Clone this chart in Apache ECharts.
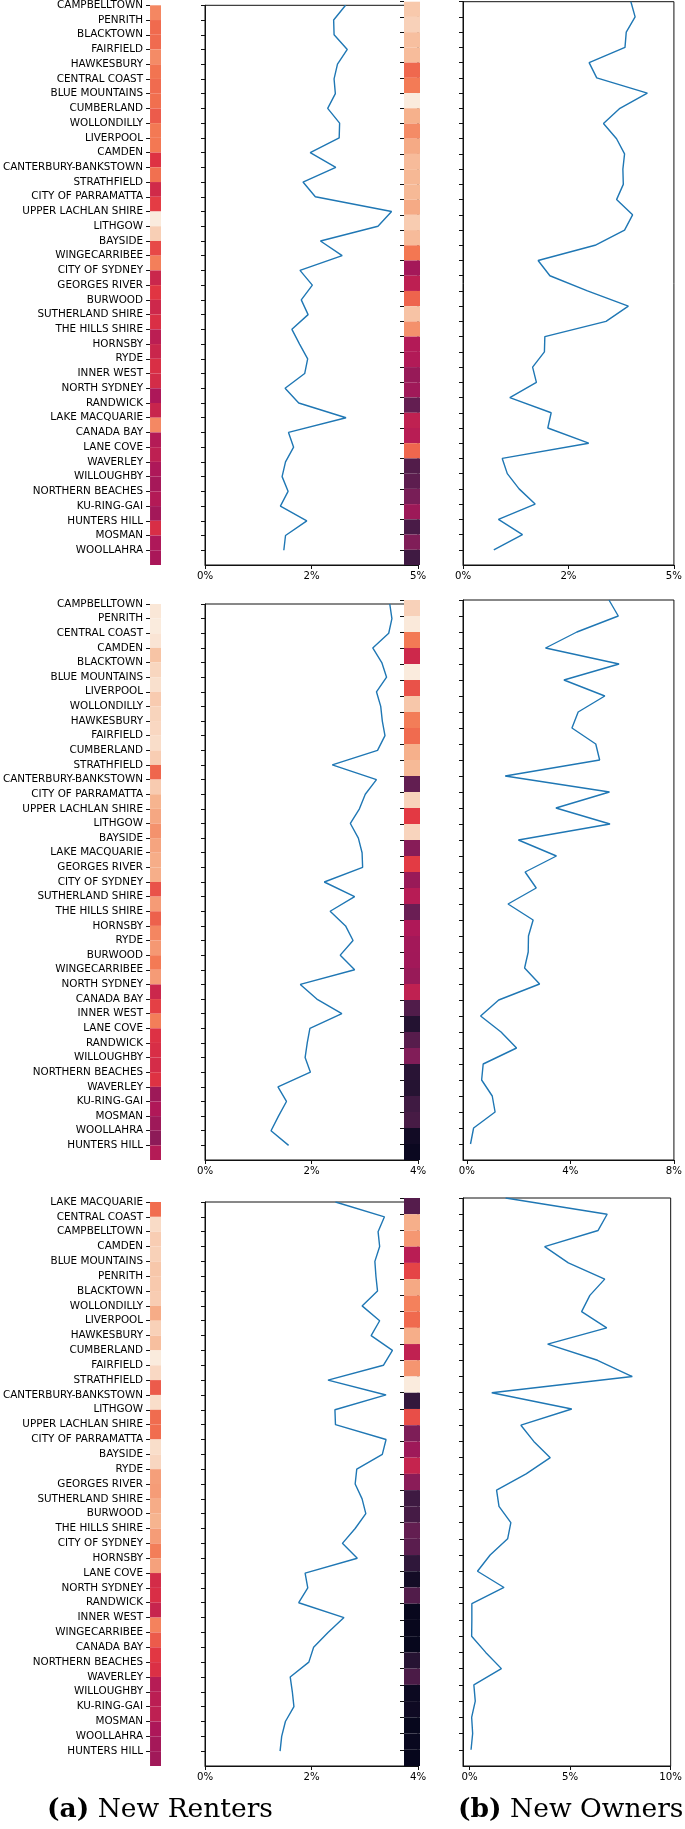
<!DOCTYPE html>
<html>
<head>
<meta charset="utf-8">
<script src="https://cdn.jsdelivr.net/npm/echarts@6/dist/echarts.min.js"></script>
<style>
  html, body { margin: 0; background: #fff; }
  #chart { width: 685px; height: 1829px; }
</style>
</head>
<body>
<div id="chart"></div>
<script>
// panel 1
const names1 = ["CAMPBELLTOWN", "PENRITH", "BLACKTOWN", "FAIRFIELD", "HAWKESBURY", "CENTRAL COAST",
  "BLUE MOUNTAINS", "CUMBERLAND", "WOLLONDILLY", "LIVERPOOL", "CAMDEN", "CANTERBURY-BANKSTOWN",
  "STRATHFIELD", "CITY OF PARRAMATTA", "UPPER LACHLAN SHIRE", "LITHGOW", "BAYSIDE", "WINGECARRIBEE",
  "CITY OF SYDNEY", "GEORGES RIVER", "BURWOOD", "SUTHERLAND SHIRE", "THE HILLS SHIRE", "HORNSBY",
  "RYDE", "INNER WEST", "NORTH SYDNEY", "RANDWICK", "LAKE MACQUARIE", "CANADA BAY", "LANE COVE",
  "WAVERLEY", "WILLOUGHBY", "NORTHERN BEACHES", "KU-RING-GAI", "HUNTERS HILL", "MOSMAN", "WOOLLAHRA"];
const rent1 = [3.30, 3.02, 3.03, 3.34, 3.11, 3.03, 3.06, 2.88, 3.16, 3.15, 2.47, 3.07, 2.30, 2.59,
  4.38, 4.06, 2.71, 3.22, 2.23, 2.52, 2.26, 2.42, 2.04, 2.22, 2.41, 2.34, 1.88, 2.20, 3.31, 1.96,
  2.08, 1.89, 1.81, 1.95, 1.77, 2.39, 1.89, 1.85];
const own1 = [3.98, 4.08, 3.87, 3.84, 2.99, 3.17, 4.37, 3.72, 3.33, 3.64, 3.83, 3.79, 3.80, 3.64,
  4.02, 3.83, 3.13, 1.78, 2.06, 2.95, 3.92, 3.39, 1.94, 1.93, 1.65, 1.74, 1.11, 2.09, 2.01, 2.98,
  0.93, 1.05, 1.33, 1.71, 0.84, 1.41, 0.73];

// panel 2
const names2 = ["CAMPBELLTOWN", "PENRITH", "CENTRAL COAST", "CAMDEN", "BLACKTOWN", "BLUE MOUNTAINS",
  "LIVERPOOL", "WOLLONDILLY", "HAWKESBURY", "FAIRFIELD", "CUMBERLAND", "STRATHFIELD",
  "CANTERBURY-BANKSTOWN", "CITY OF PARRAMATTA", "UPPER LACHLAN SHIRE", "LITHGOW", "BAYSIDE",
  "LAKE MACQUARIE", "GEORGES RIVER", "CITY OF SYDNEY", "SUTHERLAND SHIRE", "THE HILLS SHIRE",
  "HORNSBY", "RYDE", "BURWOOD", "WINGECARRIBEE", "NORTH SYDNEY", "CANADA BAY", "INNER WEST",
  "LANE COVE", "RANDWICK", "WILLOUGHBY", "NORTHERN BEACHES", "WAVERLEY", "KU-RING-GAI", "MOSMAN",
  "WOOLLAHRA", "HUNTERS HILL"];
const rent2 = [3.47, 3.51, 3.45, 3.15, 3.32, 3.41, 3.22, 3.30, 3.33, 3.38, 3.24, 2.39, 3.22, 3.01,
  2.90, 2.73, 2.88, 2.95, 2.96, 2.24, 2.81, 2.35, 2.64, 2.78, 2.54, 2.81, 1.79, 2.10, 2.57, 1.97,
  1.92, 1.88, 1.98, 1.37, 1.53, 1.38, 1.24, 1.57];
const own2 = [5.49, 5.85, 4.25, 3.04, 5.88, 3.75, 5.33, 4.30, 4.06, 4.98, 5.13, 1.48, 5.51, 3.44,
  5.53, 1.99, 3.46, 2.25, 2.68, 1.59, 2.56, 2.38, 2.37, 2.23, 2.81, 1.23, 0.53, 1.32, 1.92, 0.63,
  0.57, 0.98, 1.09, 0.26, 0.14];

// panel 3
const names3 = ["LAKE MACQUARIE", "CENTRAL COAST", "CAMPBELLTOWN", "CAMDEN", "BLUE MOUNTAINS",
  "PENRITH", "BLACKTOWN", "WOLLONDILLY", "LIVERPOOL", "HAWKESBURY", "CUMBERLAND", "FAIRFIELD",
  "STRATHFIELD", "CANTERBURY-BANKSTOWN", "LITHGOW", "UPPER LACHLAN SHIRE", "CITY OF PARRAMATTA",
  "BAYSIDE", "RYDE", "GEORGES RIVER", "SUTHERLAND SHIRE", "BURWOOD", "THE HILLS SHIRE",
  "CITY OF SYDNEY", "HORNSBY", "LANE COVE", "NORTH SYDNEY", "RANDWICK", "INNER WEST",
  "WINGECARRIBEE", "CANADA BAY", "NORTHERN BEACHES", "WAVERLEY", "WILLOUGHBY", "KU-RING-GAI",
  "MOSMAN", "WOOLLAHRA", "HUNTERS HILL"];
const rent3 = [2.45, 3.37, 3.25, 3.28, 3.19, 3.21, 3.24, 2.95, 3.28, 3.12, 3.52, 3.35, 2.31, 3.40,
  2.44, 2.45, 3.40, 3.33, 2.85, 2.82, 2.95, 3.02, 2.82, 2.58, 2.86, 1.88, 1.93, 1.76, 2.61, 2.31,
  2.04, 1.95, 1.60, 1.64, 1.67, 1.51, 1.44, 1.41];
const own3 = [1.79, 6.84, 6.39, 3.73, 4.91, 6.72, 5.98, 5.57, 6.82, 3.88, 6.36, 8.09, 1.10, 5.08,
  2.55, 3.19, 4.01, 2.81, 1.34, 1.46, 2.05, 1.89, 1.02, 0.39, 1.71, 0.11, 0.11, 0.10, 0.80, 1.58,
  0.21, 0.28, 0.10, 0.15, 0.07];

// x tick values per panel
const rentTicks1 = [0, 2.5, 5];
const ownTicks1 = [0, 2.5, 5];
const rentTicks2 = [0, 2, 4];
const ownTicks2 = [0, 4, 8];
const rentTicks3 = [0, 2, 4];
const ownTicks3 = [0, 5, 10];

// seaborn "rocket"
const rocket = ["#03051a", "#35193e", "#701f57", "#ad1759", "#e13342", "#f37651", "#f6b48f", "#faebdd"];

const panels = [
  { names: names1, rent: rent1, own: own1, rentTicks: rentTicks1, ownTicks: ownTicks1,
    rentMax: 5, ownMin: 0, ownMax: 5, rentTop: 5.3, ownTop: 1.7, bottom: 565 },
  { names: names2, rent: rent2, own: own2, rentTicks: rentTicks2, ownTicks: ownTicks2,
    rentMax: 4, ownMin: -0.15, ownMax: 8, rentTop: 604, ownTop: 600, bottom: 1160 },
  { names: names3, rent: rent3, own: own3, rentTicks: rentTicks3, ownTicks: ownTicks3,
    rentMax: 4, ownMin: -0.33, ownMax: 10, rentTop: 1202, ownTop: 1198, bottom: 1766 },
];

// matplotlib formats 2.5 as "2" (round half to even)
function pct(v) {
  const f = Math.floor(v);
  const r = v - f === 0.5 ? (f % 2 === 0 ? f : f + 1) : Math.round(v);
  return r + "%";
}

const range = (n) => Array.from({ length: n }, (_, i) => i);
const INK = "#111";
const FONT = "DejaVu Sans";

const grid = [], xAxis = [], yAxis = [], series = [], visualMap = [];

function stripSeries(gi, vals) {
  visualMap.push({
    type: "continuous", show: false, seriesIndex: series.length, dimension: 2,
    min: 0, max: Math.max(...vals), inRange: { color: rocket },
  });
  series.push({
    type: "custom", xAxisIndex: gi, yAxisIndex: gi,
    data: vals.map((v, i) => [0, i, v]),
    encode: { x: 0, y: 1 },
    renderItem: (params, api) => {
      const i = api.value(1);
      const a = api.coord([0, i]);
      const b = api.coord([1, i + 1]);
      return {
        type: "rect",
        shape: { x: a[0], y: a[1], width: b[0] - a[0], height: b[1] - a[1] },
        style: { fill: api.visual("color") },
      };
    },
  });
}

function lineSeries(gi, vals) {
  series.push({
    type: "line", xAxisIndex: gi, yAxisIndex: gi, symbol: "none",
    data: vals.map((v, i) => [v, i]),
    lineStyle: { color: "#1f77b4", width: 1.4 },
  });
}

function catAxis(gi, n, labels) {
  return {
    gridIndex: gi, type: "value", inverse: true, min: 0, max: n,
    axisLine: { show: !!labels.line, onZero: false, lineStyle: { color: INK, width: 1 } },
    splitLine: { show: false },
    axisTick: { show: true, length: 4, customValues: range(n), lineStyle: { color: INK, width: 1 } },
    axisLabel: labels.names
      ? { show: true, customValues: range(n), formatter: (v) => labels.names[v] || "",
          fontFamily: FONT, fontSize: 10.4, color: "#000", margin: 7 }
      : { show: false },
  };
}

function pctAxis(gi, min, max, ticks) {
  return {
    gridIndex: gi, type: "value", min: min, max: max,
    axisLine: { show: true, onZero: false, lineStyle: { color: INK, width: 1 } },
    splitLine: { show: false },
    axisTick: { show: true, length: 4, customValues: ticks, lineStyle: { color: INK, width: 1 } },
    axisLabel: { show: true, customValues: ticks, formatter: pct,
      fontFamily: FONT, fontSize: 10.2, color: "#000", margin: 6 },
  };
}

panels.forEach((p, k) => {
  const g = 4 * k;
  const nr = p.rent.length, no = p.own.length;
  const rh = p.bottom - p.rentTop, oh = p.bottom - p.ownTop;

  // strip of renters, with the LGA names
  grid.push({ left: 145, width: 16, top: p.rentTop, height: rh });
  xAxis.push({ gridIndex: g, type: "value", min: 0, max: 1, show: false });
  yAxis.push(catAxis(g, nr, { names: p.names }));
  stripSeries(g, p.rent);

  // renters line
  grid.push({ left: 205, width: 213, top: p.rentTop, height: rh,
    show: true, borderColor: INK, borderWidth: 1 });
  xAxis.push(pctAxis(g + 1, 0, p.rentMax, p.rentTicks));
  yAxis.push(catAxis(g + 1, nr, { line: true }));
  lineSeries(g + 1, p.rent);

  // strip of owners
  grid.push({ left: 404, width: 16, top: p.ownTop, height: oh });
  xAxis.push({ gridIndex: g + 2, type: "value", min: 0, max: 1, show: false });
  yAxis.push(catAxis(g + 2, no, {}));
  stripSeries(g + 2, p.own);

  // owners line
  grid.push({ left: 463, width: 211, top: p.ownTop, height: oh,
    show: true, borderColor: INK, borderWidth: 1 });
  xAxis.push(pctAxis(g + 3, p.ownMin, p.ownMax, p.ownTicks));
  yAxis.push(catAxis(g + 3, no, { line: true }));
  lineSeries(g + 3, p.own);
});

const capStyle = {
  fontFamily: "DejaVu Serif", fontSize: 26.5, fontWeight: "normal", color: "#000",
  rich: { b: { fontFamily: "DejaVu Serif", fontSize: 26.5, fontWeight: "bold", color: "#000" } },
};

const chart = echarts.init(document.getElementById("chart"), null, { renderer: "canvas" });
chart.setOption({
  animation: false,
  backgroundColor: "#fff",
  title: [
    { text: "{b|(a)} New Renters", left: 47, top: 1797, padding: 0, textStyle: capStyle },
    { text: "{b|(b)} New Owners", left: 458, top: 1797, padding: 0, textStyle: capStyle },
  ],
  grid, xAxis, yAxis, visualMap, series,
});
</script>
</body>
</html>
